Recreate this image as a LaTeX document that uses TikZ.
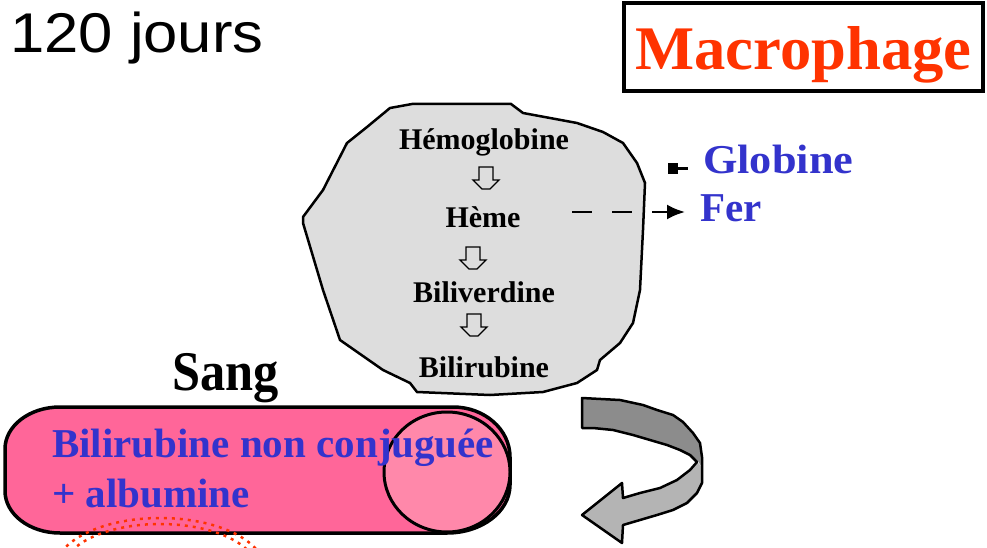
\documentclass[tikz,border=0pt]{standalone}
\usepackage{fontspec}
\setmainfont{Liberation Serif}
\newfontfamily\arialfont{Liberation Sans}
\usetikzlibrary{arrows.meta}
\definecolor{titlered}{HTML}{FF3300}
\definecolor{labelblue}{HTML}{3333CC}
\definecolor{cellgray}{HTML}{DDDDDD}
\definecolor{capsulepink}{HTML}{FF6699}
\definecolor{lobepink}{HTML}{FF88AA}
\definecolor{benddark}{HTML}{8C8C8C}
\definecolor{bendlight}{HTML}{B4B4B4}
\begin{document}
\begin{tikzpicture}[x=1pt,y=-1pt,
  stagetext/.style={font=\bfseries\fontsize{30}{36}\selectfont, anchor=base, inner sep=0pt},
  bluetext/.style={font=\bfseries\fontsize{41}{48}\selectfont, text=labelblue, anchor=base west, inner sep=0pt},
  downblock/.pic={
    \draw[line width=1.3pt, fill=cellgray]
      (-7,0) -- (7,0) -- (7,13) -- (13,13) -- (4,22) -- (-4,22) -- (-13,13) -- (-7,13) -- cycle;
  },
]
\useasboundingbox (0,0) rectangle (987,548);
\clip (0,0) rectangle (987,548);

% title
\node[font=\arialfont\fontsize{56}{62}\selectfont, anchor=base west, inner sep=0pt, xscale=1.1]
  (duree) at (10,53) {120 jours};

% macrophage label box
\node[draw, line width=4pt, minimum width=359pt, minimum height=88pt, inner sep=0pt]
  (cadre) at (803.5,47) {};
\node[font=\bfseries\fontsize{62}{70}\selectfont, text=titlered, anchor=base, inner sep=0pt, xscale=1.01]
  (macro) at (803.5,70) {Macrophage};

% macrophage cell body
\draw[line width=2.5pt, fill=cellgray]
  (412,104) -- (511,104) -- (523,113) -- (577,123) -- (603,132) -- (623,143) -- (637,163)
  -- (645,183) -- (643,230) -- (640,290) -- (633,323) -- (620,343) -- (600,360) -- (597,370)
  -- (577,383) -- (543,392) -- (490,395) -- (417,392) -- (410,383) -- (383,370) -- (340,340)
  -- (323,290) -- (303,223) -- (303,217) -- (323,190) -- (347,143) -- (367,127) -- (390,108) -- cycle;

% degradation steps
\node[stagetext] (hb)  at (484,150) {Hémoglobine};
\node[stagetext] (heme) at (483,227) {Hème};
\node[stagetext] (bv)  at (484,302) {Biliverdine};
\node[stagetext] (br)  at (484,377) {Bilirubine};
\pic (s1) at (486,167) {downblock};
\pic (s2) at (473,247) {downblock};
\pic (s3) at (474,314) {downblock};

% products leaving the cell
\node[bluetext, xscale=1.08] (globine) at (703,174) {Globine};
\node[bluetext] (fer) at (700,222) {Fer};
\coordinate (gA) at (668,169);
\coordinate (gB) at (688,169);
\draw[line width=3pt, {Square[length=10pt,width=11pt]}-] (gA) -- (gB);
\coordinate (hemeOut) at (572,212);
\coordinate (cellEdge) at (633,212);
\coordinate (ferIn) at (652,212);
\coordinate (ferTip) at (685,212);
\draw[line width=2.5pt, dash pattern=on 20pt off 20pt] (hemeOut) -- (cellEdge);
\draw[line width=2.5pt, -{Latex[length=18pt,width=15pt]}] (ferIn) -- (ferTip);

% return arrow towards the blood
\fill[benddark]
  (582,398) -- (620,400) -- (643,405) -- (657,410) -- (673,415) -- (683,422) -- (693,433)
  -- (700,443) -- (702,457) -- (702,467) -- (697,460) -- (690,455) -- (680,450) -- (667,445)
  -- (650,440) -- (633,435) -- (613,430) -- (593,428) -- (582,428) -- cycle;
\fill[bendlight]
  (702,467) -- (702,483) -- (697,493) -- (687,503) -- (673,510) -- (657,515) -- (640,520)
  -- (623,525) -- (622,543) -- (582,515) -- (622,483) -- (623,498) -- (640,493) -- (660,488)
  -- (677,480) -- (690,470) -- (697,462) -- cycle;
\draw[line width=2.5pt, line join=round]
  (582,398) -- (620,400) -- (643,405) -- (657,410) -- (673,415) -- (683,422) -- (693,433)
  -- (700,443) -- (702,457) -- (702,483) -- (697,493) -- (687,503) -- (673,510) -- (657,515)
  -- (640,520) -- (623,525) -- (622,543) -- (582,515) -- (622,483) -- (623,498) -- (640,493)
  -- (660,488) -- (677,480) -- (690,470) -- (697,462) -- (690,455) -- (680,450) -- (667,445)
  -- (650,440) -- (633,435) -- (613,430) -- (593,428) -- (582,428) -- cycle;

% blood compartment
\node[font=\bfseries\fontsize{56}{60}\selectfont, anchor=base west, inner sep=0pt, xscale=0.9] (sang) at (172,390) {Sang};
\draw[line width=3.5pt, fill=capsulepink]
  (60,407) -- (453,407) .. controls (484.5,407) and (510,429.4) .. (510,457)
  -- (510,485) .. controls (510,511.5) and (481.8,533) .. (447,533)
  -- (60,533) .. controls (29.6,533) and (5,514.2) .. (5,491)
  -- (5,449) .. controls (5,425.8) and (29.6,407) .. (60,407) -- cycle;
\draw[line width=3pt, fill=lobepink] (447,472) ellipse [x radius=63pt, y radius=60pt];
\node[bluetext] (bnc) at (52,457) {Bilirubine non conjuguée};
\node[bluetext] (alb) at (52,507) {+ albumine};

% red dotted outline below
\draw[titlered, line width=2.5pt, dash pattern=on 3pt off 5pt] (160,570) ellipse [x radius=105pt, y radius=52pt];
\draw[titlered, line width=2.5pt, dash pattern=on 3pt off 5pt] (160,570) ellipse [x radius=97pt, y radius=46pt];
\end{tikzpicture}
\end{document}
